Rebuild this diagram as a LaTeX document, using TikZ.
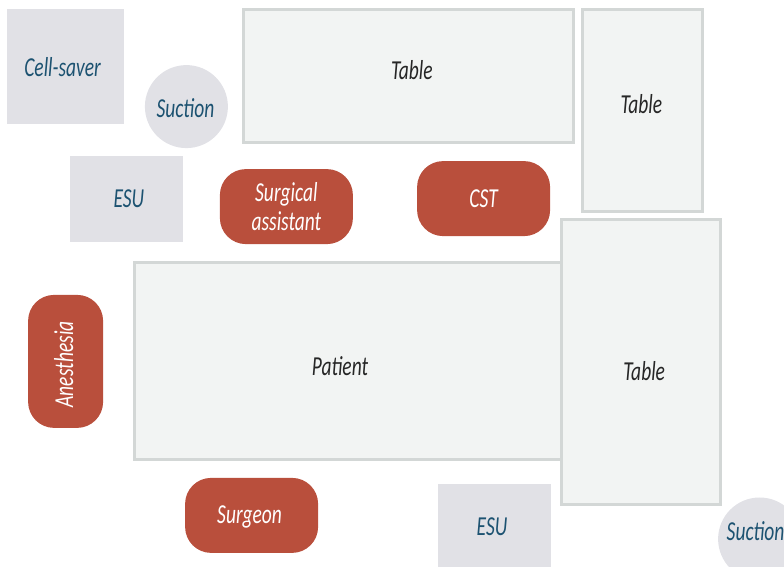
\documentclass[tikz,border=0pt]{standalone}
\usepackage{fontspec}
\setmainfont[FakeStretch=0.71]{Carlito}
\usepackage{tikz}
\usetikzlibrary{positioning}
\definecolor{devicegray}{RGB}{225,225,230}
\definecolor{deviceblue}{RGB}{28,82,113}
\definecolor{staffred}{RGB}{185,79,60}
\definecolor{tablefill}{RGB}{242,244,243}
\definecolor{tableline}{RGB}{211,215,214}
\tikzstyle{Device}=[shape=rectangle,fill=devicegray,text=deviceblue,font=\fontsize{19.5}{20}\selectfont\itshape]
\tikzstyle{Pump}=[shape=circle,fill=devicegray,text=deviceblue,inner sep=0pt,minimum size=2.075cm,font=\fontsize{19.5}{20}\selectfont\itshape]
\tikzstyle{Staff}=[shape=rectangle,rounded corners=0.65cm,fill=staffred,text=white,minimum width=3.325cm,minimum height=1.875cm,align=center,font=\fontsize{19.5}{20}\selectfont\itshape]
\tikzstyle{Furniture}=[shape=rectangle,draw=tableline,line width=0.075cm,fill=tablefill,text=black!85,font=\fontsize{19.5}{20}\selectfont\itshape]
\newcommand{\nudge}[3]{\hspace*{#1}\raisebox{#2}[\height][\depth]{#3}}
\begin{document}
\begin{tikzpicture}
  \useasboundingbox (0,0) rectangle (19.6,14.175);

  % devices
  \node[Device,minimum width=2.925cm,minimum height=2.875cm] (SAVER) at (1.64,12.51){\nudge{-0.15cm}{0cm}{Cell-saver}};
  \node[Pump] (SUCTA) at (4.66,11.51){\nudge{-0.05cm}{-0.03cm}{Suction}};
  \node[Device,minimum width=2.825cm,minimum height=2.15cm] (ESUA) at (3.16,9.20){\nudge{0.12cm}{0cm}{ESU}};
  \node[Device,minimum width=2.825cm,minimum height=2.15cm] (ESUB) at (12.36,1.00){\nudge{-0.12cm}{0cm}{ESU}};
  \node[Pump] (SUCTB) at (18.99,0.70){\nudge{-0.2cm}{0.2cm}{Suction}};

  % tables
  \node[Furniture,minimum width=8.25cm,minimum height=3.325cm] (TOP) at (10.21,12.28){\nudge{0.17cm}{0.15cm}{Table}};
  \node[Furniture,minimum width=3cm,minimum height=5.05cm] (SIDE) at (16.06,11.41){\nudge{-0.05cm}{0.17cm}{Table}};
  \node[Furniture,minimum width=10.69cm,minimum height=4.925cm] (PATIENT) at (8.70,5.15){\nudge{-0.4cm}{-0.125cm}{Patient}};
  \node[Furniture,minimum width=3.975cm,minimum height=7.125cm] (FOOT) at (16.03,5.13){\nudge{0.15cm}{-0.225cm}{Table}};

  % staff
  \node[Staff] (ASSIST) at (7.16,9.01){Surgical\\assistant};
  \node[Staff] (CST) at (12.09,9.21){CST};
  \node[Staff,rotate=90] (ANES) at (1.64,5.14){\nudge{-0.15cm}{0.05cm}{Anesthesia}};
  \node[Staff] (SURGEON) at (6.29,1.29){\nudge{-0.1cm}{-0.05cm}{Surgeon}};

\end{tikzpicture}
\end{document}
